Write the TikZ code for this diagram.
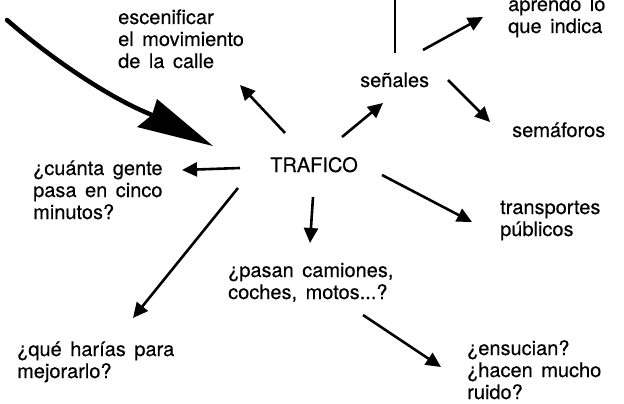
\documentclass[tikz,border=0pt]{standalone}
\usepackage{fontspec}
\setmainfont{TeX Gyre Heros}
\newfontfamily\heavy{TeX Gyre Heros}[FakeBold=0.3]
\usetikzlibrary{arrows.meta,calc}
\tikzset{
  lbl/.style={anchor=base west,inner sep=0pt,align=left,
    font={\heavy\fontsize{20}{22}\selectfont\spaceskip=8.5pt plus 1pt\relax}},
  arr/.style={line width=2.6pt,-{Triangle[length=15pt,width=14pt]}},
  plain/.style={line width=2.6pt},
  big/.style={line width=4.5pt,line cap=round}
}
\begin{document}
\begin{tikzpicture}[x=1pt,y=-1pt]
\fill[white] (0,0) rectangle (624,404);
\useasboundingbox (0,0) rectangle (624,404);
% nodes (multi-line nodes: base = last line)
\node[lbl] (esc) at (118,68) {escenificar\\el movimiento\\de la calle};
\node[lbl] (sen) at (360,87) {señales};
\node[lbl] (apr) at (508,33) {aprendo lo\\que indica};
\node[lbl] (sem) at (512,137) {semáforos};
\node[lbl] (traf) at (270,172) {TRAFICO};
\node[lbl] (cua) at (33,219) {¿cuánta gente\\pasa en cinco\\minutos?};
\node[lbl] (tra) at (500,236) {transportes\\públicos};
\node[lbl] (pas) at (228,299) {¿pasan camiones,\\coches, motos...?};
\node[lbl] (que) at (17,378) {¿qué harías para\\mejorarlo?};
\node[lbl] (ens) at (467,399) {¿ensucian?\\¿hacen mucho\\ruido?};
\coordinate (senup) at (395,-1);
\coordinate (bstart) at (7,20);
% connectors
\draw[arr] ($(traf.base west)+(15,-39)$) -- ($(esc.base west)+(122,17)$);
\draw[arr] ($(traf.base west)+(-30,-4)$) -- ($(cua.base west)+(149,-49)$);
\draw[arr] ($(traf.base west)+(-32,16)$) -- ($(que.base west)+(116,-60)$);
\draw[arr] ($(traf.base west)+(43,25)$) -- ($(pas.base west)+(82,-56)$);
\draw[arr] ($(pas.base west)+(135,16)$) -- ($(ens.base west)+(-26,-32)$);
\draw[arr] ($(traf.base west)+(112,3)$) -- ($(tra.base west)+(-28,-14)$);
\draw[arr] ($(traf.base west)+(72,-35)$) -- ($(sen.base west)+(23,16)$);
\draw[plain] ($(sen.base west)+(35,-34)$) -- (senup);
\draw[arr] ($(sen.base west)+(63,-37)$) -- ($(apr.base west)+(-25,-16)$);
\draw[arr] ($(sen.base west)+(88,-7)$) -- ($(sem.base west)+(-22,-15)$);
% big curved arrow into TRAFICO
\coordinate (btip) at ($(traf.base west)+(-57,-26)$);
\draw[big] (bstart) .. controls (47,55) and (105,96) .. ($(btip)+(-61,-31)$);
\fill ($(btip)+(-56,-47)$) -- (btip) -- ($(btip)+(-76,-19)$) -- ($(btip)+(-61,-31)$) -- cycle;
\end{tikzpicture}
\end{document}
